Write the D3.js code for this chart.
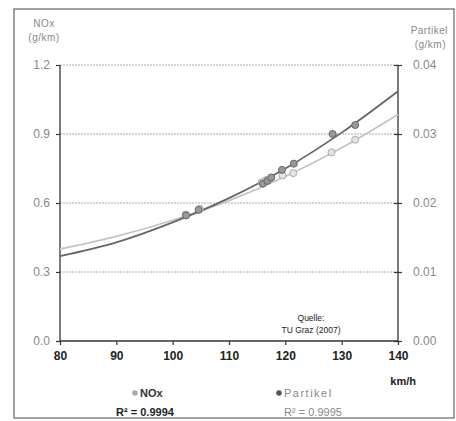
<!DOCTYPE html>
<html>
<head>
<meta charset="utf-8">
<script src="https://cdn.jsdelivr.net/npm/d3@7"></script>
<style>
  body { margin: 0; background: #fff; }
  svg { display: block; font-family: "Liberation Sans", Arial, sans-serif; }
</style>
</head>
<body>
<svg id="chart" width="456" height="421"></svg>
<script>
var noxSpeed = [102.3, 104.8, 115.8, 116.6, 117.3, 119.5, 121.4, 128.2, 132.4]
var noxValue = [0.55, 0.575, 0.69, 0.70, 0.705, 0.72, 0.73, 0.82, 0.875]
var partSpeed = [102.4, 104.6, 116.0, 116.8, 117.5, 119.4, 121.5, 128.4, 132.4]
var partValue = [0.0182, 0.0190, 0.0228, 0.0232, 0.0237, 0.0248, 0.0257, 0.0300, 0.0313]

// trend lines as drawn in the picture
var trendSpeed = [80, 90, 100, 110, 120, 130, 140]
var noxTrend = [0.40, 0.455, 0.525, 0.61, 0.715, 0.84, 0.985]
var partTrend = [0.0123, 0.0143, 0.0172, 0.0207, 0.0250, 0.0302, 0.0362]

var xTicks = [80, 90, 100, 110, 120, 130, 140]
var noxTicks = [0, 0.3, 0.6, 0.9, 1.2]
var partTicks = [0, 0.01, 0.02, 0.03, 0.04]

var svg = d3.select('#chart')

var x = d3.scaleLinear().domain([80, 140]).range([60, 398]),
	yL = d3.scaleLinear().domain([0, 1.2]).range([341, 65]),
	yR = d3.scaleLinear().domain([0, 0.04]).range([341, 65])

// outer frame
svg.append('rect')
	.attr('x', 14).attr('y', 9).attr('width', 440).attr('height', 409)
	.attr('fill', 'none').attr('stroke', '#666').attr('stroke-width', 1.2)

// grid
svg.selectAll('.grid')
	.data(noxTicks.slice(1))
	.enter()
	.append('line')
	.attr('class', 'grid')
	.attr('x1', 60).attr('x2', 398)
	.attr('y1', function(d) {return yL(d)})
	.attr('y2', function(d) {return yL(d)})
	.attr('stroke', '#aaa').attr('stroke-width', 1)
	.attr('stroke-dasharray', '2,1')

// axes
var axL = svg.append('g').attr('transform', 'translate(60,0)')
	.call(d3.axisLeft(yL).tickValues(noxTicks).tickFormat(d3.format('.1f')).tickSize(4).tickPadding(6))
var axR = svg.append('g').attr('transform', 'translate(398,0)')
	.call(d3.axisRight(yR).tickValues(partTicks).tickFormat(d3.format('.2f')).tickSize(4).tickPadding(11))
var axB = svg.append('g').attr('transform', 'translate(0,341)')
	.call(d3.axisBottom(x).tickValues(xTicks).tickSize(4).tickPadding(6))

;[axL, axR, axB].forEach(function(a) {
	a.select('.domain').attr('stroke', '#333').attr('stroke-width', 1.3)
	a.selectAll('.tick line').attr('stroke', '#333').attr('stroke-width', 1.2)
})
axL.select('.domain').attr('d', 'M0,' + yL(1.2) + 'V' + yL(0))
axR.select('.domain').attr('d', 'M0,' + yR(0.04) + 'V' + yR(0))
axB.select('.domain').attr('d', 'M' + x(80) + ',0H' + x(140))
axR.selectAll('.tick line').attr('x1', -4)
axL.selectAll('.tick text').attr('fill', '#888').attr('font-size', 12)
axR.selectAll('.tick text').attr('fill', '#888').attr('font-size', 12)
axB.selectAll('.tick text').attr('fill', '#222').attr('font-size', 12).attr('font-weight', 'bold')

// axis titles
var t = svg.append('g').attr('fill', '#888').attr('font-size', 10).attr('letter-spacing', 0.5)
t.append('text').attr('x', 44).attr('y', 27).attr('text-anchor', 'middle').text('NOx')
t.append('text').attr('x', 44).attr('y', 41).attr('text-anchor', 'middle').text('(g/km)')
t.append('text').attr('x', 448).attr('y', 34).attr('text-anchor', 'end').text('Partikel')
t.append('text').attr('x', 446).attr('y', 48).attr('text-anchor', 'end').text('(g/km)')
svg.append('text').attr('x', 416).attr('y', 385).attr('text-anchor', 'end')
	.attr('font-size', 11).attr('font-weight', 'bold').attr('fill', '#222').text('km/h')

// source note
var q = svg.append('g').attr('font-size', 8.5).attr('fill', '#222').attr('text-anchor', 'middle')
q.append('text').attr('x', 311).attr('y', 321).text('Quelle:')
q.append('text').attr('x', 311).attr('y', 333).text('TU Graz (2007)')

// trend lines
var lineL = d3.line().curve(d3.curveMonotoneX)
	.x(function(d, i) {return x(trendSpeed[i])})
	.y(function(d) {return yL(d)})
var lineR = d3.line().curve(d3.curveMonotoneX)
	.x(function(d, i) {return x(trendSpeed[i])})
	.y(function(d) {return yR(d)})

svg.append('path').datum(noxTrend).attr('d', lineL)
	.attr('fill', 'none').attr('stroke', '#c4c4c4').attr('stroke-width', 1.8)
svg.append('path').datum(partTrend).attr('d', lineR)
	.attr('fill', 'none').attr('stroke', '#666').attr('stroke-width', 1.8)

// points
svg.selectAll('.nox')
	.data(d3.range(noxSpeed.length))
	.enter()
	.append('circle')
	.attr('class', 'nox')
	.attr('cx', function(i) {return x(noxSpeed[i])})
	.attr('cy', function(i) {return yL(noxValue[i])})
	.attr('r', 3.5)
	.attr('fill', '#e4e4e4').attr('stroke', '#aaa').attr('stroke-width', 1)
svg.selectAll('.part')
	.data(d3.range(partSpeed.length))
	.enter()
	.append('circle')
	.attr('class', 'part')
	.attr('cx', function(i) {return x(partSpeed[i])})
	.attr('cy', function(i) {return yR(partValue[i])})
	.attr('r', 3.5)
	.attr('fill', '#999').attr('stroke', '#666').attr('stroke-width', 1)

// legend
var lg = svg.append('g').attr('font-size', 11)
lg.append('circle').attr('cx', 135).attr('cy', 393).attr('r', 2.8).attr('fill', '#aaa')
lg.append('text').attr('x', 140).attr('y', 397).attr('font-weight', 'bold').attr('fill', '#333').text('NOx')
lg.append('text').attr('x', 145).attr('y', 416).attr('text-anchor', 'middle')
	.attr('font-weight', 'bold').attr('fill', '#222').text('R² = 0.9994')
lg.append('circle').attr('cx', 279).attr('cy', 393).attr('r', 2.8).attr('fill', '#555')
lg.append('text').attr('x', 284).attr('y', 397).attr('fill', '#888').attr('letter-spacing', 1.5).text('Partikel')
lg.append('text').attr('x', 313).attr('y', 416).attr('text-anchor', 'middle')
	.attr('fill', '#888').text('R² = 0.9995')
</script>
</body>
</html>
